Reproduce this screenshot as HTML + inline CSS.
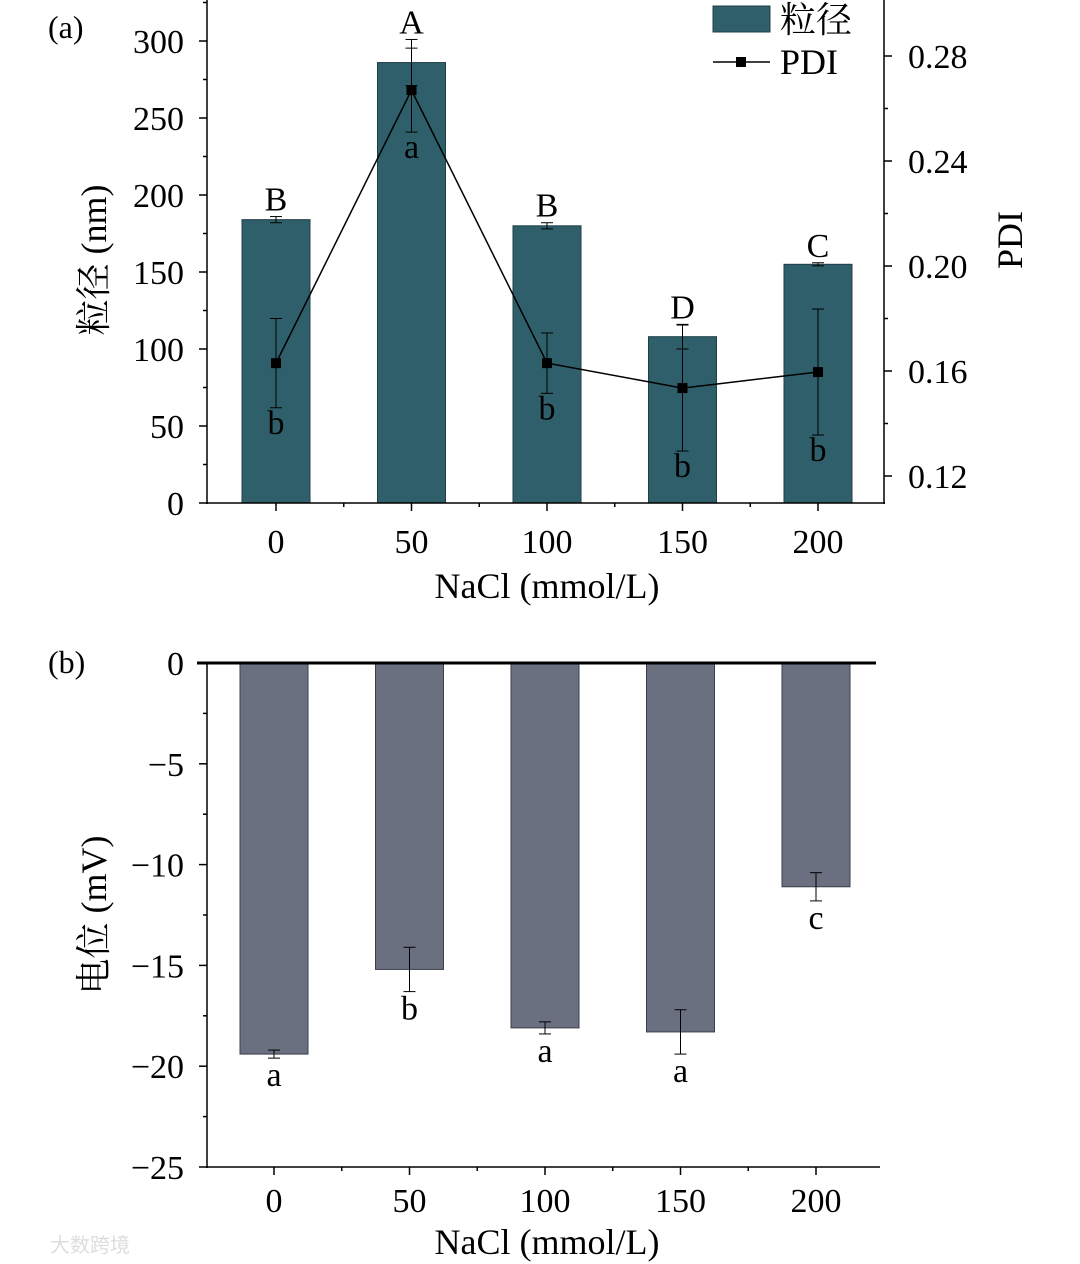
<!DOCTYPE html>
<html><head><meta charset="utf-8"><style>
body{margin:0;background:#fff;}
svg{display:block;font-family:"Liberation Serif","Noto Serif CJK SC",serif;}
</style></head><body>
<svg id="c" width="1080" height="1264" xmlns="http://www.w3.org/2000/svg"></svg>
<script>
const categories=[0,50,100,150,200];
const sizeVals=[184,286,180,108,155];
const sizeErr=[2,15,2,8,1];
const sizeLetters=["B","A","B","D","C"];
const pdiVals=[0.163,0.267,0.163,0.1535,0.1596];
const pdiErr=[0.017,0.016,0.0115,0.024,0.024];
const pdiLetters=["b","a","b","b","b"];
const zetaVals=[-19.4,-15.2,-18.1,-18.3,-11.1];
const zetaErr=[0.2,1.1,0.3,1.1,0.7];
const zetaLetters=["a","b","a","a","c"];
const sizeTicks=[0,50,100,150,200,250,300];
const pdiTicks=[0.12,0.16,0.20,0.24,0.28];
const zetaTicks=[0,-5,-10,-15,-20,-25];

const svg=document.getElementById('c');
const NS='http://www.w3.org/2000/svg';
function el(t,a,txt){const e=document.createElementNS(NS,t);for(const k in a)e.setAttribute(k,a[k]);if(txt!==undefined)e.textContent=txt;svg.appendChild(e);return e;}
const ln=(x1,y1,x2,y2,w)=>el('line',{x1,y1,x2,y2,stroke:'#000','stroke-width':w||1.5});
const FS=34;

const xa=i=>276+i*135.5;
const ya=v=>503-v*(462/300);
const yp=v=>476-(v-0.12)*(105/0.04);
sizeVals.forEach((v,i)=>{
 const b=el('rect',{x:xa(i)-34,y:ya(v),width:68,height:503-ya(v),fill:'#2e5f6a',stroke:'#1f3f47','stroke-width':1});
 
 
 const t=ya(v+sizeErr[i]),bo=ya(v-sizeErr[i]);
 ln(xa(i),t,xa(i),bo,1);ln(xa(i)-6,t,xa(i)+6,t,1);ln(xa(i)-6,bo,xa(i)+6,bo,1);
 const l=el('text',{x:xa(i),y:t-6,'text-anchor':'middle','font-size':FS},sizeLetters[i]);
 
 
});
el('polyline',{points:pdiVals.map((v,i)=>xa(i)+','+yp(v)).join(' '),fill:'none',stroke:'#000','stroke-width':1.5});
pdiVals.forEach((v,i)=>{
 const t=yp(v+pdiErr[i]),bo=yp(v-pdiErr[i]);
 ln(xa(i),t,xa(i),bo,1);ln(xa(i)-6,t,xa(i)+6,t,1);ln(xa(i)-6,bo,xa(i)+6,bo,1);
 const p=el('rect',{x:xa(i)-5,y:yp(v)-5,width:10,height:10,fill:'#000'});
 
 
 el('text',{x:xa(i),y:bo+26,'text-anchor':'middle','font-size':FS},pdiLetters[i]);
});
ln(207,0,207,504);ln(884,0,884,504);ln(206,503,885,503);
sizeTicks.forEach(v=>{ln(199,ya(v),207,ya(v));el('text',{x:184,y:ya(v)+12,'text-anchor':'end','font-size':FS},v);});
for(let v=25;v<326;v+=50)ln(203,ya(v),207,ya(v));
pdiTicks.forEach(v=>{ln(884,yp(v),892,yp(v));el('text',{x:908,y:yp(v)+12,'font-size':FS},v.toFixed(2));});
for(let v=0.14;v<0.30;v+=0.04)ln(884,yp(v),888,yp(v));
categories.forEach((c,i)=>{ln(xa(i),503,xa(i),511);el('text',{x:xa(i),y:553,'text-anchor':'middle','font-size':FS},c);if(i<4)ln(xa(i)+67.75,503,xa(i)+67.75,507);});
el('text',{x:547,y:598,'text-anchor':'middle','font-size':36},'NaCl (mmol/L)');
el('text',{x:0,y:0,'text-anchor':'middle','font-size':36,transform:'translate(106,260) rotate(-90)'},'粒径 (nm)');
el('text',{x:0,y:0,'text-anchor':'middle','font-size':36,transform:'translate(1022,240) rotate(-90)'},'PDI');
el('text',{x:48,y:38,'font-size':32},'(a)');
el('rect',{x:713,y:6,width:57,height:26,fill:'#2e5f6a',stroke:'#1f3f47'});
el('text',{x:780,y:32,'font-size':36},'粒径');
ln(713,62,770,62);el('rect',{x:736,y:57,width:10,height:10,fill:'#000'});
el('text',{x:780,y:74,'font-size':36},'PDI');

const yz=v=>663+(-v)*(504/25);
zetaVals.forEach((v,i)=>{
 const b=el('rect',{x:xa(i)-2-34,y:663,width:68,height:yz(v)-663,fill:'#6a7080',stroke:'#3a3f4a','stroke-width':1});
 
 
 const x=xa(i)-2,t=yz(v+zetaErr[i]),bo=yz(v-zetaErr[i]);
 ln(x,t,x,bo,1);ln(x-6,t,x+6,t,1);ln(x-6,bo,x+6,bo,1);
 el('text',{x:x,y:bo+28,'text-anchor':'middle','font-size':FS},zetaLetters[i]);
});
ln(197,663,876,663,3);ln(207,663,207,1168);ln(206,1167,880,1167);
zetaTicks.forEach(v=>{ln(199,yz(v),207,yz(v));el('text',{x:184,y:yz(v)+12,'text-anchor':'end','font-size':FS},v===0?'0':'−'+(-v));});
for(let v=-2.5;v>-25;v-=5)ln(203,yz(v),207,yz(v));
categories.forEach((c,i)=>{const x=xa(i)-2;ln(x,1167,x,1175);el('text',{x:x,y:1212,'text-anchor':'middle','font-size':FS},c);if(i<4)ln(x+67.75,1167,x+67.75,1171);});
el('text',{x:547,y:1254,'text-anchor':'middle','font-size':36},'NaCl (mmol/L)');
el('text',{x:0,y:0,'text-anchor':'middle','font-size':36,transform:'translate(106,915) rotate(-90)'},'电位 (mV)');
el('text',{x:48,y:673,'font-size':32},'(b)');
el('text',{x:50,y:1252,'font-size':20,fill:'#ddd','font-family':'Liberation Sans,Noto Sans CJK SC,sans-serif'},'大数跨境');
</script>
</body></html>
